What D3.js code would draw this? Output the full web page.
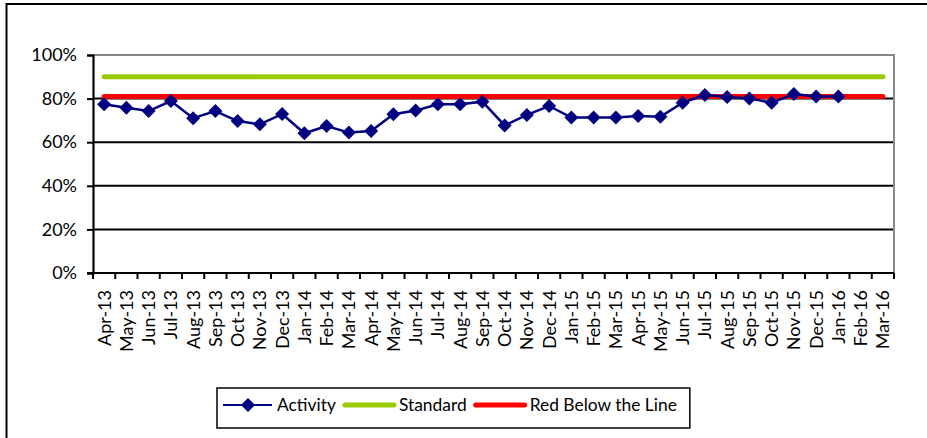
<!DOCTYPE html>
<html>
<head>
<meta charset="utf-8">
<script src="https://cdn.jsdelivr.net/npm/d3@7"></script>
<style>
  body { margin: 0; background: #fff; }
  text { font-family: Lato, "Liberation Sans", sans-serif; fill: #000; }
</style>
</head>
<body>
<svg id="chart" width="927" height="438"></svg>
<script>
// Data
const months = ["Apr-13","May-13","Jun-13","Jul-13","Aug-13","Sep-13","Oct-13","Nov-13","Dec-13",
  "Jan-14","Feb-14","Mar-14","Apr-14","May-14","Jun-14","Jul-14","Aug-14","Sep-14","Oct-14","Nov-14","Dec-14",
  "Jan-15","Feb-15","Mar-15","Apr-15","May-15","Jun-15","Jul-15","Aug-15","Sep-15","Oct-15","Nov-15","Dec-15",
  "Jan-16","Feb-16","Mar-16"];
const activity = [0.774,0.758,0.743,0.789,0.710,0.743,0.697,0.682,0.729,
  0.641,0.674,0.644,0.651,0.728,0.745,0.774,0.774,0.786,0.677,0.725,0.766,
  0.713,0.713,0.713,0.720,0.717,0.781,0.817,0.807,0.801,0.781,0.821,0.810,
  0.810];
const standard = 0.90;
const redLine = 0.81;
const yTicks = [0, 0.2, 0.4, 0.6, 0.8, 1.0];

const svg = d3.select("#chart");

// outer chart border (right/bottom run off the picture)
svg.append("rect").attr("x", 6.5).attr("y", 4).attr("width", 940).attr("height", 450)
  .attr("fill", "none").attr("stroke", "#000").attr("stroke-width", 2);

const pLeft = 93, pRight = 894, pTop = 55, pBottom = 273;

const x = d3.scaleBand().domain(months).range([pLeft, pRight]);
const y = d3.scaleLinear().domain([0, 1]).range([pBottom, pTop]);
const cx = m => x(m) + x.bandwidth() / 2;

// gridlines
svg.append("g").selectAll("line").data(yTicks.filter(t => t > 0 && t < 1)).join("line")
  .attr("x1", pLeft).attr("x2", pRight).attr("y1", d => y(d)).attr("y2", d => y(d))
  .attr("stroke", "#000").attr("stroke-width", 2);

// plot area border (grey top + right)
svg.append("path")
  .attr("d", `M${pLeft},${pTop}H${pRight}V${pBottom}`)
  .attr("fill", "none").attr("stroke", "#888").attr("stroke-width", 2);

// y axis
const yAxis = svg.append("g").attr("transform", `translate(${pLeft},0)`)
  .call(d3.axisLeft(y).tickValues(yTicks).tickFormat(d3.format(".0%")).tickSize(6).tickPadding(10));
yAxis.select(".domain").attr("stroke-width", 2.2);
yAxis.selectAll(".tick line").attr("stroke-width", 2);
yAxis.selectAll("text").attr("font-size", 18).style("font-family", "Lato, sans-serif");

// x axis with ticks at band boundaries
const xAxis = svg.append("g").attr("transform", `translate(0,${pBottom})`);
xAxis.append("line").attr("x1", pLeft - 6).attr("x2", pRight).attr("stroke", "#000").attr("stroke-width", 2.2);
xAxis.selectAll(".tk").data(months.concat(["end"])).join("line").attr("class", "tk")
  .attr("x1", (d, i) => pLeft + i * x.bandwidth()).attr("x2", (d, i) => pLeft + i * x.bandwidth())
  .attr("y1", 0).attr("y2", 6).attr("stroke", "#000").attr("stroke-width", 2);
xAxis.selectAll("text").data(months).join("text")
  .attr("transform", d => `translate(${cx(d)},17) rotate(-90)`)
  .attr("text-anchor", "end").attr("dy", "0.36em").attr("font-size", 18)
  .text(d => d);

// standard & red lines
const first = cx(months[0]), last = cx(months[months.length - 1]);
svg.append("line").attr("x1", first).attr("x2", last).attr("y1", y(standard)).attr("y2", y(standard))
  .attr("stroke", "#99cc00").attr("stroke-width", 5).attr("stroke-linecap", "round");
svg.append("line").attr("x1", first).attr("x2", last).attr("y1", y(redLine)).attr("y2", y(redLine))
  .attr("stroke", "#ff0000").attr("stroke-width", 5).attr("stroke-linecap", "round");

// activity line + diamonds
const line = d3.line().x((d, i) => cx(months[i])).y(d => y(d));
svg.append("path").datum(activity).attr("d", line)
  .attr("fill", "none").attr("stroke", "#000080").attr("stroke-width", 2.5);
const diamond = "M0,-7L7,0L0,7L-7,0Z";
svg.append("g").selectAll("path").data(activity).join("path")
  .attr("d", diamond).attr("transform", (d, i) => `translate(${cx(months[i])},${y(d)})`)
  .attr("fill", "#000080");

// legend
const lg = svg.append("g");
const box = lg.append("rect").attr("y", 388).attr("height", 40)
  .attr("fill", "#fff").attr("stroke", "#000").attr("stroke-width", 1.5);
const items = [
  {name: "Activity", color: "#000080", w: 2, marker: true},
  {name: "Standard", color: "#99cc00", w: 5},
  {name: "Red Below the Line", color: "#ff0000", w: 5}
];
let lx = 223;
const ly = 405;
items.forEach(it => {
  lg.append("line").attr("x1", lx).attr("x2", lx + 49).attr("y1", ly).attr("y2", ly)
    .attr("stroke", it.color).attr("stroke-width", it.w).attr("stroke-linecap", it.marker ? "butt" : "round");
  if (it.marker) lg.append("path").attr("d", diamond).attr("transform", `translate(${lx + 25},${ly})`).attr("fill", it.color);
  const t = lg.append("text").attr("x", lx + 54).attr("y", ly).attr("dy", "0.36em")
    .attr("font-size", 17.4).text(it.name);
  lx += 54 + t.node().getComputedTextLength() + 9;
});
box.attr("x", 217).attr("width", lx - 217 + 4);
</script>
</body>
</html>
